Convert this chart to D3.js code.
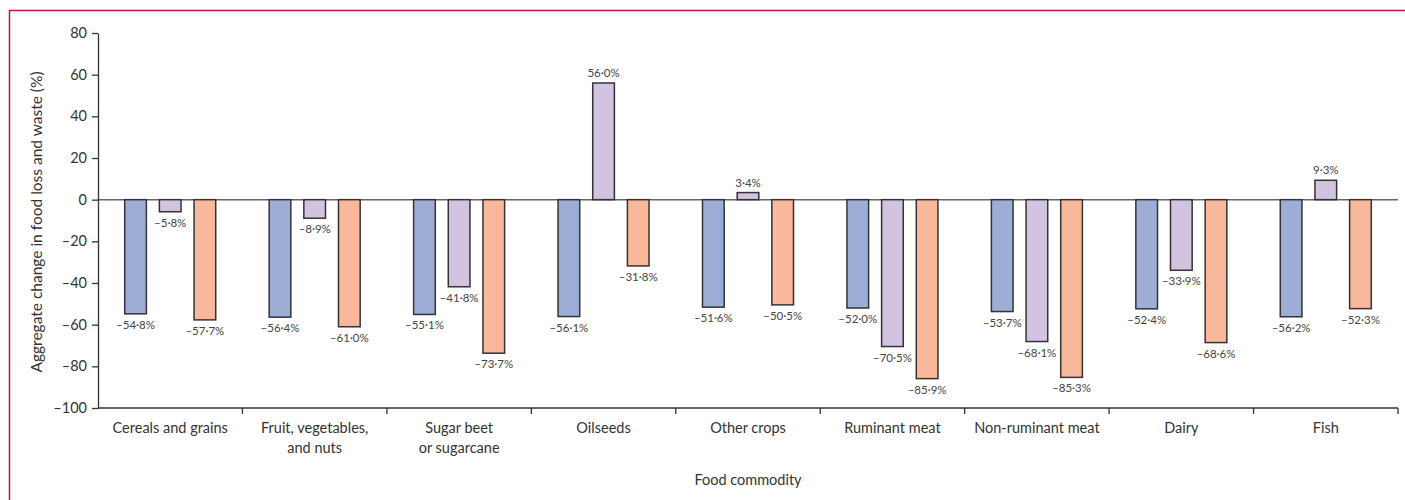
<!DOCTYPE html>
<html lang="en">
<head>
    <meta charset="UTF-8">
    <title>Food loss and waste</title>
    <script src="https://cdn.jsdelivr.net/npm/d3@7"></script>
    <style>
        body { margin: 0; background: #fff; }
        svg text { font-family: Lato, "Open Sans", sans-serif; fill: #333; }
        .bar { stroke: #333; stroke-width: 1.5; }
        .lbl { font-size: 11.5px; fill: #444; }
        .axis text { font-size: 14.5px; }
        .axis path, .axis line { stroke: #333; stroke-width: 1.3; }
    </style>
</head>
<body>
<div class="chart"></div>
<script>
    var categories = ['Cereals and grains', 'Fruit, vegetables,\nand nuts', 'Sugar beet\nor sugarcane',
        'Oilseeds', 'Other crops', 'Ruminant meat', 'Non-ruminant meat', 'Dairy', 'Fish'];
    var seriesA = [-54.8, -56.4, -55.1, -56.1, -51.6, -52.0, -53.7, -52.4, -56.2];
    var seriesB = [-5.8, -8.9, -41.8, 56.0, 3.4, -70.5, -68.1, -33.9, 9.3];
    var seriesC = [-57.7, -61.0, -73.7, -31.8, -50.5, -85.9, -85.3, -68.6, -52.3];
    var yTicks = [80, 60, 40, 20, 0, -20, -40, -60, -80, -100];
    var colors = ['#9dadd5', '#d2c3e0', '#f9b89b'];

(function() {
    "use strict";

    var W = 1405, H = 500;
    var mLeft = 98, mRight = 1398, mTop = 33, mBottom = 408;

    var svg = d3.select('.chart').append('svg')
        .attr('width', W)
        .attr('height', H);

    // frame (top + left rule)
    svg.append('path')
        .attr('d', 'M9.5,' + H + 'V10.5H' + W)
        .attr('fill', 'none')
        .attr('stroke', '#c8103e')
        .attr('stroke-width', 1.5);

    var x = d3.scaleBand().domain(d3.range(categories.length)).range([mLeft, mRight]);
    var y = d3.scaleLinear().domain([-100, 80]).range([mBottom, mTop]);
    var inner = d3.scaleBand().domain([0, 1, 2]).range([-45.5, 45.5]).paddingInner(0.375);

    var rows = [];
    [seriesA, seriesB, seriesC].forEach(function(s, k) {
        s.forEach(function(v, i) { rows.push({ cat: i, k: k, v: v }); });
    });

    // zero line
    svg.append('line')
        .attr('x1', mLeft).attr('x2', mRight)
        .attr('y1', y(0)).attr('y2', y(0))
        .attr('stroke', '#666').attr('stroke-width', 1.5);

    function bx(d) { return x(d.cat) + x.bandwidth() / 2 + inner(d.k); }

    svg.selectAll('rect.bar').data(rows).enter().append('rect')
        .attr('class', 'bar')
        .attr('x', bx)
        .attr('y', function(d) { return y(Math.max(0, d.v)); })
        .attr('width', inner.bandwidth())
        .attr('height', function(d) { return Math.abs(y(d.v) - y(0)); })
        .attr('fill', function(d) { return colors[d.k]; });

    function fmt(v) {
        return (v < 0 ? '\u2013' : '') + Math.abs(v).toFixed(1).replace('.', '\u00b7') + '%';
    }

    svg.selectAll('text.lbl').data(rows).enter().append('text')
        .attr('class', 'lbl')
        .attr('text-anchor', 'middle')
        .attr('x', function(d) { return bx(d) + inner.bandwidth() / 2; })
        .attr('y', function(d) { return d.v < 0 ? y(d.v) + 15 : y(d.v) - 6; })
        .text(function(d) { return fmt(d.v); });

    // y axis
    var yAxis = svg.append('g')
        .attr('class', 'axis')
        .attr('transform', 'translate(' + mLeft + ',0)')
        .call(d3.axisLeft(y).tickValues(yTicks).tickSize(6).tickSizeOuter(0)
            .tickFormat(function(d) { return d < 0 ? '\u2013' + Math.abs(d) : d; }));
    yAxis.selectAll('text').attr('dx', '-2');

    // x axis with ticks at category boundaries
    var xAxis = svg.append('g')
        .attr('class', 'axis')
        .attr('transform', 'translate(0,' + mBottom + ')');
    xAxis.append('line')
        .attr('x1', mLeft).attr('x2', mRight);
    xAxis.selectAll('line.tk').data(d3.range(1, categories.length + 1)).enter().append('line')
        .attr('class', 'tk')
        .attr('x1', function(i) { return mLeft + i * x.bandwidth(); })
        .attr('x2', function(i) { return mLeft + i * x.bandwidth(); })
        .attr('y1', 0).attr('y2', 6);

    xAxis.selectAll('text.cat').data(categories).enter().append('text')
        .attr('class', 'cat')
        .attr('text-anchor', 'middle')
        .attr('x', function(d, i) { return x(i) + x.bandwidth() / 2; })
        .attr('y', 25)
        .each(function(d) {
            var t = d3.select(this);
            d.split('\n').forEach(function(line, j) {
                t.append('tspan')
                    .attr('x', t.attr('x'))
                    .attr('dy', j ? 20 : 0)
                    .text(line);
            });
        });

    svg.append('text')
        .attr('text-anchor', 'middle')
        .attr('x', 748).attr('y', 485)
        .style('font-size', '14.5px')
        .text('Food commodity');

    svg.append('text')
        .attr('text-anchor', 'middle')
        .attr('transform', 'translate(42,222) rotate(-90)')
        .style('font-size', '15.5px')
        .text('Aggregate change in food loss and waste (%)');
})();
</script>
</body>
</html>
